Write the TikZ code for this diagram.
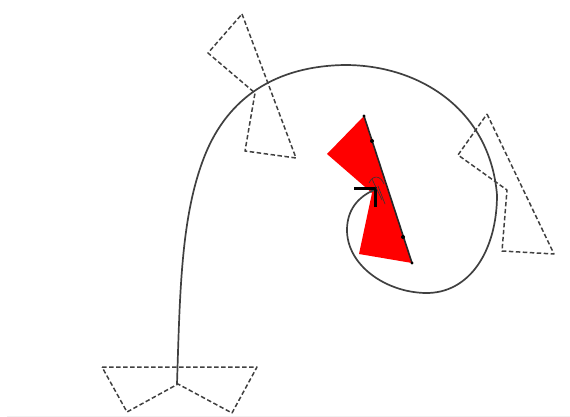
\documentclass[tikz,border=0pt]{standalone}
\usepackage{xcolor}
\usetikzlibrary{arrows.meta, positioning, calc}

\begin{document}
\begin{tikzpicture}[
        x=1pt, y=-1pt,
        ghost_wing/.style={
            draw=black!75,
            line width=1.5pt,
            dash pattern=on 4.5pt off 2.5pt,
            line join=round
        },
        solid_wing/.style={
            fill=red,
            draw=none
        },
        flight_path/.style={
            draw=black!75,
            line width=1.7pt
        }
    ]
    \useasboundingbox (0,0) rectangle (570,417);
    \draw[black!6, line width=0.8pt] (7,416) -- (570,416);

    % Dashed wing pairs along the path
    \draw[ghost_wing] (102,367) -- (257,367) -- (232,413) -- (178,384) -- (127,412) -- cycle;
    \draw[ghost_wing] (242,14) -- (296,158) -- (245,151) -- (255,93) -- (208,53) -- cycle;
    \draw[ghost_wing] (487,114) -- (554,254) -- (502,251) -- (507,190) -- (458,155) -- cycle;

    % Final red wing pair
    \draw[solid_wing] (364,116) -- (412,263) -- (359,254) -- (372,193) -- (327,154) -- cycle;
    \draw[black!85, line width=1.6pt] (364,116) -- (412,263);
    \fill[black] (372,141) circle (2pt) (403,237) circle (2pt) (364,116) circle (1.6pt) (412,263) circle (1.6pt);

    % Flight path
    \coordinate (start) at (177,384);
    \coordinate (tip) at (374,190);
    \draw[flight_path] (start) .. controls (180,290) and (181,215) .. (205,155)
        .. controls (228,98) and (275,66) .. (345,65)
        .. controls (420,65) and (490,110) .. (497,195)
        .. controls (497,250) and (470,294) .. (425,293)
        .. controls (385,292) and (347,265) .. (347,230)
        .. controls (347,210) and (358,197) .. (tip);

    % Arrow head and small angle mark
    \draw[black, line width=3pt] (354,188) -- (375,188) -- (375,207);
    \draw[black!80, line width=0.6pt] (369,183) .. controls (373,174) and (381,176) .. (384,184);
    \draw[black!80, line width=0.6pt] (378,186) -- (385,204);
    \draw[black!80, line width=0.6pt] (372,179) -- (382,200);

\end{tikzpicture}
\end{document}
